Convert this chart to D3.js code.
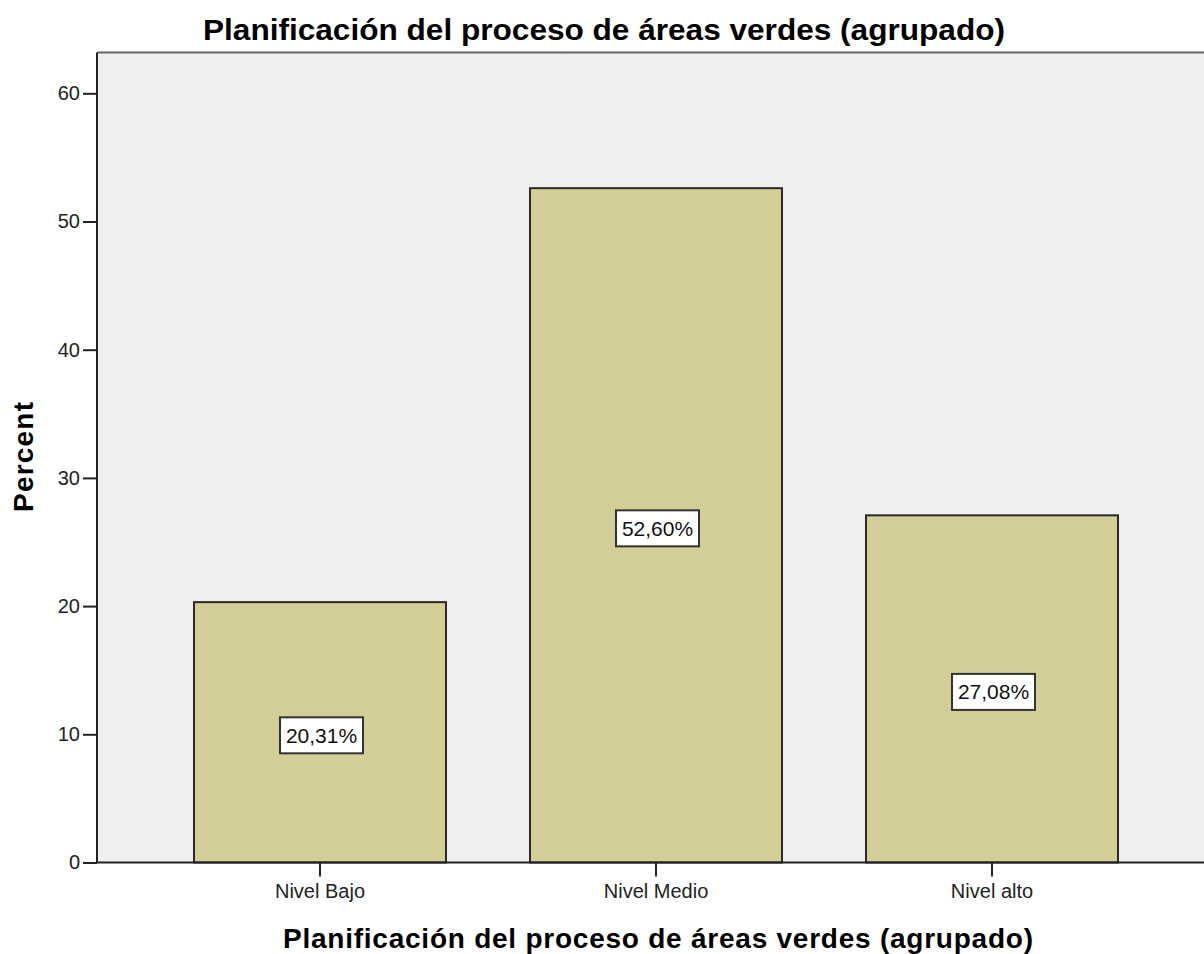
<!DOCTYPE html>
<html><head><meta charset="utf-8">
<script src="https://cdn.jsdelivr.net/npm/d3@7"></script>
<style>body{margin:0;background:#fff}svg{display:block}text{font-family:"Liberation Sans",Arial,sans-serif}</style>
</head><body><svg id="c" width="1204" height="954"></svg>
<script>
const categories = ["Nivel Bajo", "Nivel Medio", "Nivel alto"];
const percents = [20.31, 52.60, 27.08];
const valueLabels = ["20,31%", "52,60%", "27,08%"];
const yTicks = [0, 10, 20, 30, 40, 50, 60];
const chartTitle = "Planificación del proceso de áreas verdes (agrupado)";
const xTitle = "Planificación del proceso de áreas verdes (agrupado)";
const yTitle = "Percent";

const svg = d3.select("#c");
const pLeft = 97, pRight = 1215, pTop = 52.5, pBottom = 862.5;

const x = d3.scaleBand().domain(categories).range([pLeft, pRight]).paddingInner(0.25).paddingOuter(0.2887);
const y = d3.scaleLinear().domain([0, 60]).range([pBottom, 93.3]);

// plot background
svg.append("rect").attr("x", pLeft).attr("y", pTop).attr("width", pRight - pLeft).attr("height", pBottom - pTop).attr("fill", "#efefef");
svg.append("line").attr("x1", pLeft).attr("x2", 1204).attr("y1", pTop).attr("y2", pTop).attr("stroke", "#666").attr("stroke-width", 2);

// bars
svg.selectAll("rect.bar").data(percents).join("rect").attr("class", "bar")
  .attr("x", (d, i) => x(categories[i]))
  .attr("y", d => y(d))
  .attr("width", x.bandwidth())
  .attr("height", d => y(0) - y(d))
  .attr("fill", "#d3ce97").attr("stroke", "#2a2a2a").attr("stroke-width", 2);

// value labels
const lab = svg.selectAll("g.lab").data(percents).join("g").attr("class", "lab")
  .attr("transform", (d, i) => `translate(${x(categories[i]) + x.bandwidth() / 2 + 1.5},${y(d / 2) + 3})`);
lab.append("rect").attr("x", -41.5).attr("y", -18).attr("width", 83).attr("height", 36)
  .attr("fill", "#fff").attr("stroke", "#333").attr("stroke-width", 2);
lab.append("text").attr("text-anchor", "middle").attr("y", 7.5).attr("font-size", 21).attr("fill", "#111")
  .text((d, i) => valueLabels[i]);

// axes
const yAxis = d3.axisLeft(y).tickValues(yTicks).tickSize(14).tickPadding(3).tickFormat(d3.format("d"));
const gy = svg.append("g").attr("transform", `translate(${pLeft},0)`).call(yAxis);
gy.select(".domain").attr("stroke", "#222").attr("stroke-width", 2).attr("d", `M0,${pTop}V${pBottom}`);
gy.selectAll(".tick line").attr("stroke", "#222").attr("stroke-width", 2);
gy.selectAll(".tick text").attr("font-size", 20).attr("fill", "#222").attr("font-family", '"Liberation Sans",Arial,sans-serif');

const xAxis = d3.axisBottom(x).tickSize(14).tickPadding(7);
const gx = svg.append("g").attr("transform", `translate(0,${pBottom})`).call(xAxis);
gx.select(".domain").attr("stroke", "#222").attr("stroke-width", 2).attr("d", `M${pLeft},0H1204`);
gx.selectAll(".tick line").attr("stroke", "#222").attr("stroke-width", 2);
gx.selectAll(".tick text").attr("font-size", 20).attr("fill", "#222").attr("font-family", '"Liberation Sans",Arial,sans-serif');

// titles
svg.append("text").attr("x", 604).attr("y", 40).attr("text-anchor", "middle").attr("font-size", 30).attr("font-weight", "bold")
  .attr("fill", "#000").attr("textLength", 802).attr("lengthAdjust", "spacingAndGlyphs").text(chartTitle);
svg.append("text").attr("x", 658).attr("y", 948).attr("text-anchor", "middle").attr("font-size", 28).attr("font-weight", "bold")
  .attr("fill", "#000").attr("textLength", 750).attr("lengthAdjust", "spacing").text(xTitle);
svg.append("text").attr("transform", "translate(33,457) rotate(-90)").attr("text-anchor", "middle").attr("font-size", 28)
  .attr("font-weight", "bold").attr("fill", "#000").attr("textLength", 110).attr("lengthAdjust", "spacing").text(yTitle);
</script></body></html>
